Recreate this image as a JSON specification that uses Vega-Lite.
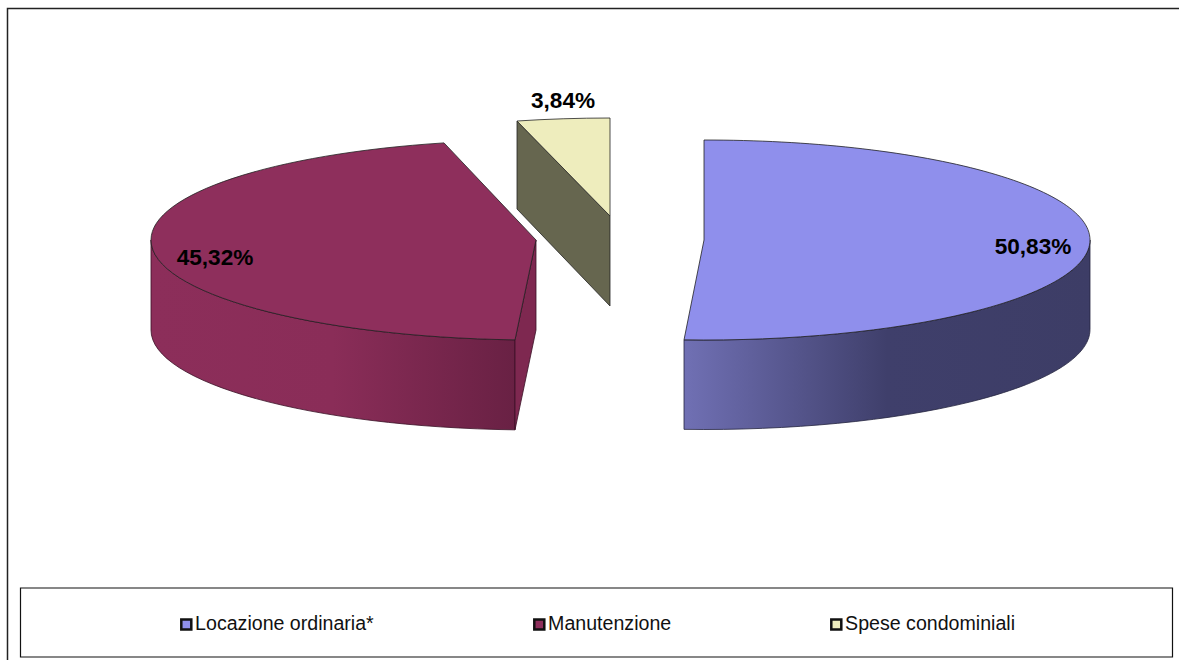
{
"$schema":"https://vega.github.io/schema/vega-lite/v6.json",
"width":1171.5,"height":651.5,
"autosize":{"type":"none"},
"padding":{"left":7.5,"top":8.5,"right":0,"bottom":0},
"background":"white",
"config":{"view":{"stroke":null},"locale":{"number":{"decimal":",","thousands":".","grouping":[3],"currency":["","€"]}}},
"datasets":{"quote":[
{"categoria":"Locazione ordinaria*","quota":0.5083},
{"categoria":"Manutenzione","quota":0.4532},
{"categoria":"Spese condominiali","quota":0.0384}
]},
"data":{"name":"quote"},
"resolve":{"scale":{"shape":"independent"}},
"layer":[
{"data":{"values":[{"cornice":"riquadro"}]},
 "mark":{"type":"point","filled":false,"fill":null,"stroke":"#222","strokeWidth":1.5,"size":4,"opacity":1},
 "encoding":{"shape":{"field":"cornice","scale":{"domain":["riquadro"],"range":["M-585.75,326 L-585.75,-325.75 L586,-325.75"]},"legend":null}}},
{"data":{"values":[{"cornice":"legenda"}]},
 "mark":{"type":"point","filled":true,"fill":"white","stroke":"#111","strokeWidth":1.2,"size":4,"opacity":1},
 "encoding":{"shape":{"field":"cornice","scale":{"domain":["legenda"],"range":["M-572.75,253.75 L579.25,253.75 L579.25,322.75 L-572.75,322.75 Z"]},"legend":null}}},
{"transform":[{"filter":"datum.categoria==='Locazione ordinaria*'"}],
 "mark":{"type":"point","filled":true,"stroke":"#25253f","strokeWidth":0.8,"size":4,"opacity":1,
  "fill":{"gradient":"linear","x1":0,"y1":0,"x2":1,"y2":0,"stops":[{"offset":0,"color":"#7070b4"},{"offset":0.5,"color":"#3f3f6b"},{"offset":1,"color":"#3d3d66"}]}},
 "encoding":{"shape":{"field":"categoria","scale":{"domain":["Locazione ordinaria*"],"range":["M496.75,-94.25 A386,100 0 0 1 90.75,5.62 L90.75,95.12 A386,100 0 0 0 496.75,-4.75 Z"]},"legend":null}}},
{"transform":[{"filter":"datum.categoria==='Manutenzione'"}],
 "mark":{"type":"point","filled":true,"stroke":"#3a1026","strokeWidth":0.8,"size":4,"opacity":1,
  "fill":{"gradient":"linear","x1":0,"y1":0,"x2":1,"y2":0,"stops":[{"offset":0,"color":"#8c2e5a"},{"offset":0.5,"color":"#8a2d58"},{"offset":1,"color":"#692144"}]}},
 "encoding":{"shape":{"field":"categoria","scale":{"domain":["Manutenzione"],"range":["M-442.25,-94.25 A385,100 0 0 0 -78.25,5.6 L-78.25,95.6 A385,100 0 0 1 -442.25,-4.25 Z"]},"legend":null}}},
{"transform":[{"filter":"datum.categoria==='Manutenzione'"}],
 "mark":{"type":"point","filled":true,"fill":"#7e2850","stroke":"#3a1026","strokeWidth":0.8,"size":4,"opacity":1},
 "encoding":{"shape":{"field":"categoria","scale":{"domain":["Manutenzione"],"range":["M-57.25,-94.25 L-78.25,5.6 L-78.25,95.6 L-57.25,-4.25 Z"]},"legend":null}}},
{"transform":[{"filter":"datum.categoria==='Spese condominiali'"}],
 "mark":{"type":"point","filled":true,"fill":"#66664f","stroke":"#222","strokeWidth":0.8,"size":4,"opacity":1},
 "encoding":{"shape":{"field":"categoria","scale":{"domain":["Spese condominiali"],"range":["M-76.25,-213.25 L16.75,-118.25 L16.75,-28.25 L-76.25,-125.25 Z"]},"legend":null}}},
{"mark":{"type":"point","filled":true,"stroke":"#222","strokeWidth":0.8,"size":4,"opacity":1},
 "encoding":{
  "shape":{"field":"categoria","scale":{"domain":["Locazione ordinaria*","Manutenzione","Spese condominiali"],"range":[
    "M110.75,-94.25 L110.75,-194.25 A386,100 0 0 1 496.75,-94.25 A386,100 0 0 1 90.75,5.62 Z",
    "M-57.25,-94.25 L-149.25,-191.35 A385,100 0 0 0 -442.25,-94.25 A385,100 0 0 0 -78.25,5.6 Z",
    "M16.75,-118.25 L-76.25,-213.25 A386,100 0 0 1 16.75,-216.25 Z"]},"legend":null},
  "fill":{"field":"categoria","type":"nominal","scale":{"domain":["Locazione ordinaria*","Manutenzione","Spese condominiali"],"range":["#8f8fec","#8e2f5c","#eeedbd"]},
   "legend":{"title":null,"orient":"none","legendX":169,"legendY":606,"direction":"horizontal","columns":3,"columnPadding":154,"symbolType":"square","symbolSize":100,"symbolStrokeColor":"#111","symbolStrokeWidth":2.5,"symbolOpacity":1,"labelFont":"Liberation Sans","labelFontSize":19.6,"labelColor":"#111","labelOffset":-1,"labelLimit":400,"padding":0}}
 }},
{"transform":[{"filter":"datum.categoria==='Locazione ordinaria*'"}],
 "mark":{"type":"text","font":"Liberation Sans","fontWeight":"bold","fontSize":22.6,"color":"#000","baseline":"middle","dx":439.75,"dy":-87.25},
 "encoding":{"text":{"field":"quota","type":"quantitative","format":".2%"}}},
{"transform":[{"filter":"datum.categoria==='Manutenzione'"}],
 "mark":{"type":"text","font":"Liberation Sans","fontWeight":"bold","fontSize":22.6,"color":"#000","baseline":"middle","dx":-378.25,"dy":-76.25},
 "encoding":{"text":{"field":"quota","type":"quantitative","format":".2%"}}},
{"transform":[{"filter":"datum.categoria==='Spese condominiali'"}],
 "mark":{"type":"text","font":"Liberation Sans","fontWeight":"bold","fontSize":22.6,"color":"#000","baseline":"middle","dx":-30.25,"dy":-233.25},
 "encoding":{"text":{"field":"quota","type":"quantitative","format":".2%"}}}
]
}
